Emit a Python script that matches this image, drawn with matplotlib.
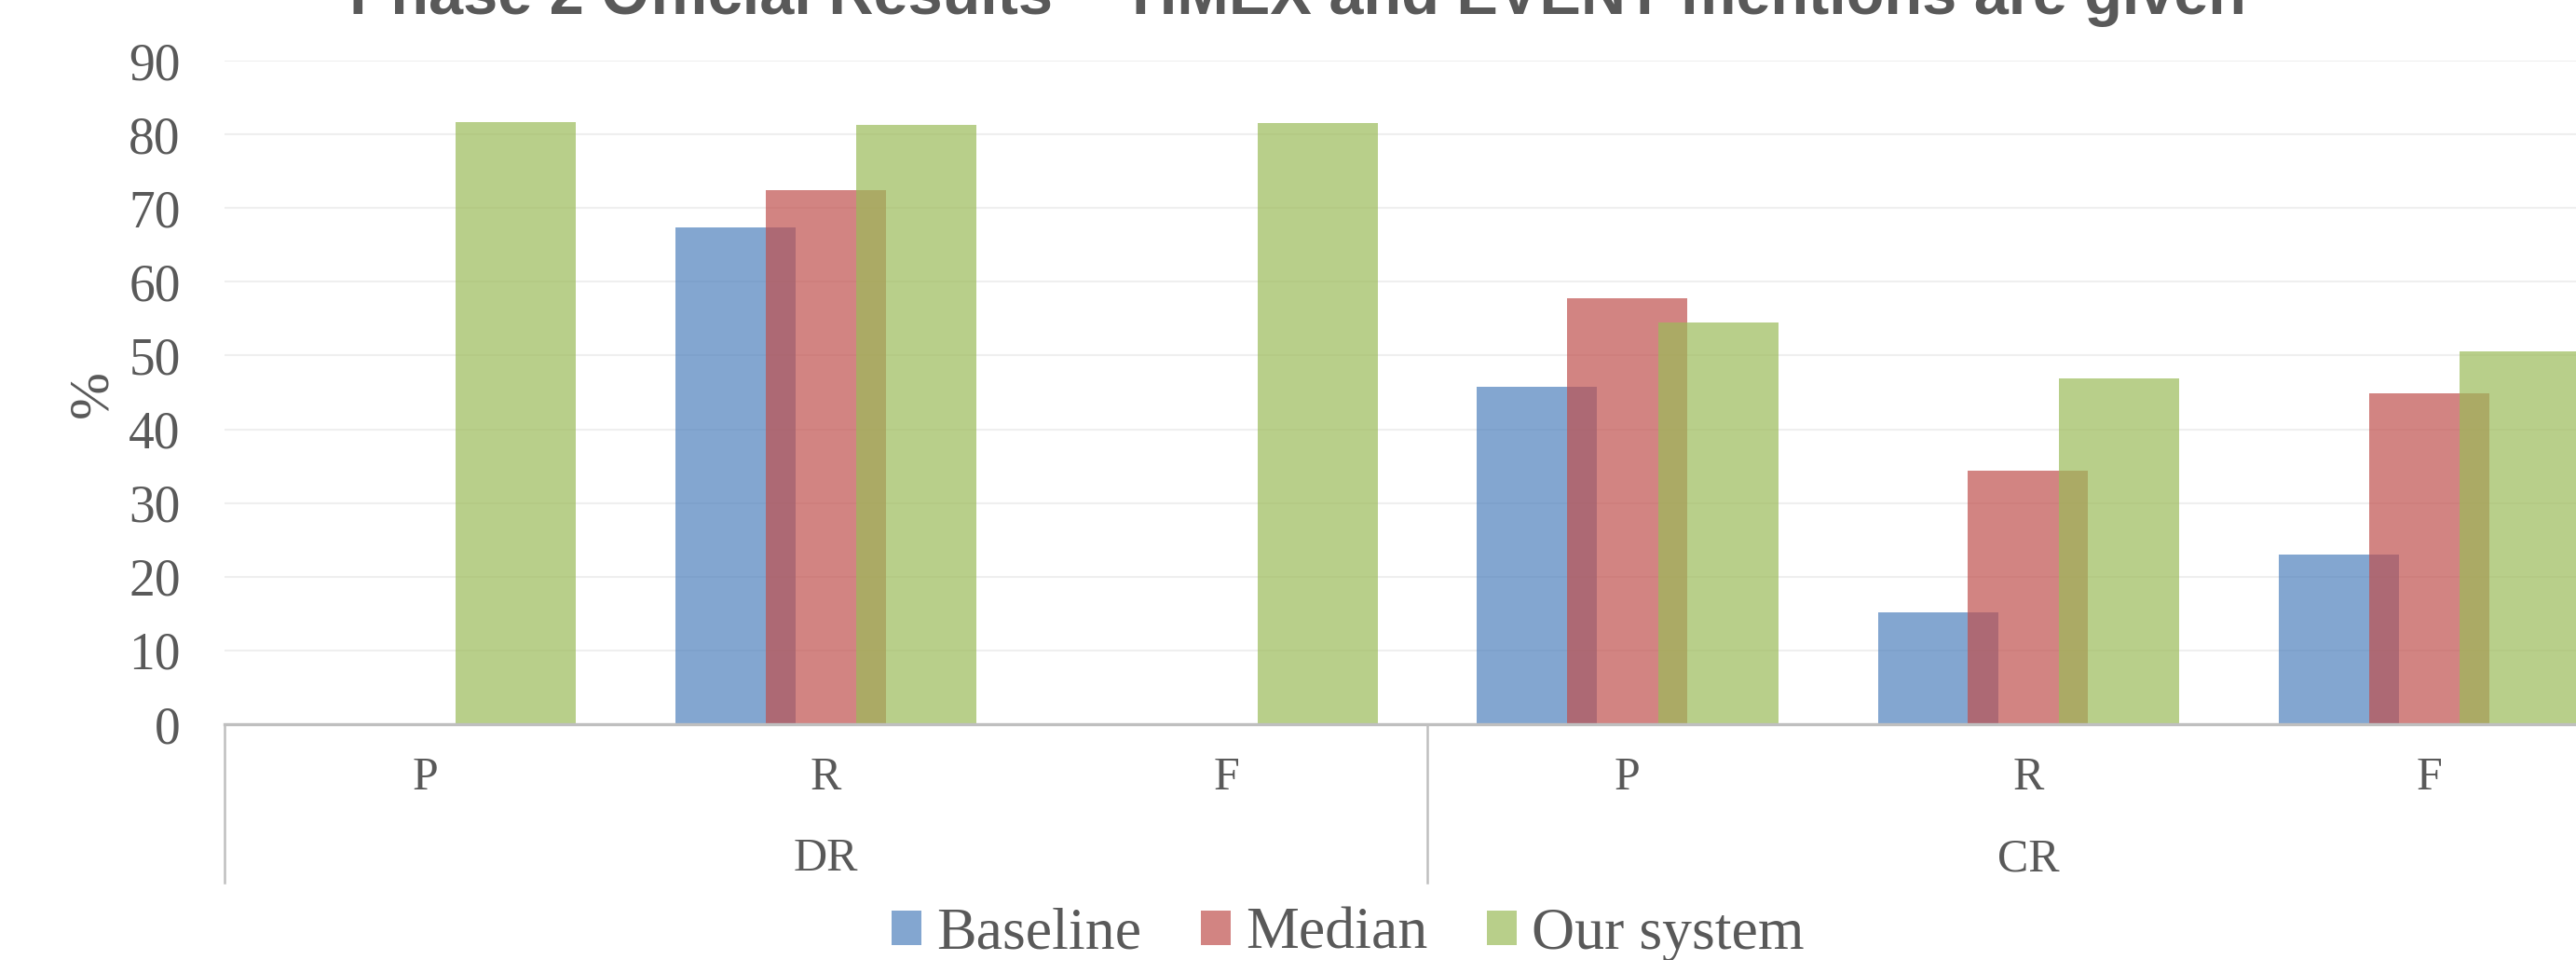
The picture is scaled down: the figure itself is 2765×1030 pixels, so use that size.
import numpy as np
import matplotlib
matplotlib.use("Agg")
import matplotlib.pyplot as plt
from matplotlib.transforms import blended_transform_factory
from matplotlib.patches import Patch

categories = ["P", "R", "F", "P", "R", "F"]
groups = ["DR", "CR"]
series = ["Baseline", "Median", "Our system"]
baseline = [np.nan, 67.4, np.nan, 45.8, 15.2, 23.0]
median = [np.nan, 72.4, np.nan, 57.8, 34.4, 44.9]
our_system = [81.7, 81.3, 81.5, 54.5, 46.9, 50.5]
yticks = [0, 10, 20, 30, 40, 50, 60, 70, 80, 90]
title = "Phase 2 Official Results \u2013 TIMEX and EVENT mentions are given"

colors = ["#4F81BD", "#C0504D", "#9BBB59"]
txt = "#595959"
W, H = 2765, 1030
fig = plt.figure(figsize=(W / 100, H / 100), dpi=100)
serif = ["Liberation Serif", "DejaVu Serif"]

ax_left = 241 / W
ax_w = 6 * 430.2 / W
ax_bottom = (H - 777) / H
ax_h = (777 - 65) / H
ax = fig.add_axes([ax_left, ax_bottom, ax_w, ax_h])

x = np.arange(len(categories))
offsets = [-0.225, 0.0, 0.227]
width = 0.30
for vals, off, c, name in zip([baseline, median, our_system], offsets, colors, series):
    ax.bar(x + off, vals, width=width, color=c, alpha=0.7, label=name, zorder=2, linewidth=0)

ax.set_xlim(-0.5, 5.5)
ax.set_ylim(0, 90)
ax.set_yticks(yticks)
ax.set_yticklabels([str(v) for v in yticks], fontfamily=serif, fontsize=40, color=txt)
ax.tick_params(axis="y", length=0, pad=34)
ax.yaxis.grid(True, color="#EFEFEF", linewidth=1.5, zorder=0)
ax.set_axisbelow(True)
for s in ["top", "right", "left"]:
    ax.spines[s].set_visible(False)
ax.spines["bottom"].set_color("#BFBFBF")
ax.spines["bottom"].set_linewidth(2.4)
ax.set_xticks(x)
ax.set_xticklabels([])
ax.tick_params(axis="x", length=0)

trans = blended_transform_factory(ax.transData, ax.transAxes)
ah = 777 - 65
for xi, lab in zip(x, categories):
    ax.text(xi, -(835 - 777) / ah, lab, transform=trans, ha="center", va="center",
            fontfamily=serif, fontsize=36, color=txt)
sep_bottom = -(947 - 777) / ah
for xs in [-0.5, 2.5, 5.5]:
    ax.plot([xs, xs], [0, sep_bottom], transform=trans, color="#BFBFBF", lw=1.8, clip_on=False)
for gi, g in enumerate(groups):
    ax.text(1 + 3 * gi, -(922 - 777) / ah, g, transform=trans, ha="center", va="center",
            fontfamily=serif, fontsize=36, color=txt)

fig.text(100 / W, 1 - 423 / H, "%", rotation=90, ha="center", va="center",
         fontfamily=serif, fontsize=44, color=txt)

fig.text(1393 / W, 1 - 15 / H, title, ha="center", va="baseline", fontsize=48,
         fontweight="bold", color=txt, fontfamily=["Liberation Sans", "DejaVu Sans"])

handles = [Patch(facecolor=c, alpha=0.7, edgecolor="none") for c in colors]
leg = fig.legend(handles, series, loc="center", bbox_to_anchor=(1447 / W, 1 - 1003 / H),
                 ncol=3, frameon=False, prop={"family": serif, "size": 46},
                 handlelength=0.5, handleheight=0.5, handletextpad=0.25, columnspacing=1.0,
                 borderpad=0, borderaxespad=0)
for t in leg.get_texts():
    t.set_color(txt)

fig.savefig("out.png", dpi=100)
